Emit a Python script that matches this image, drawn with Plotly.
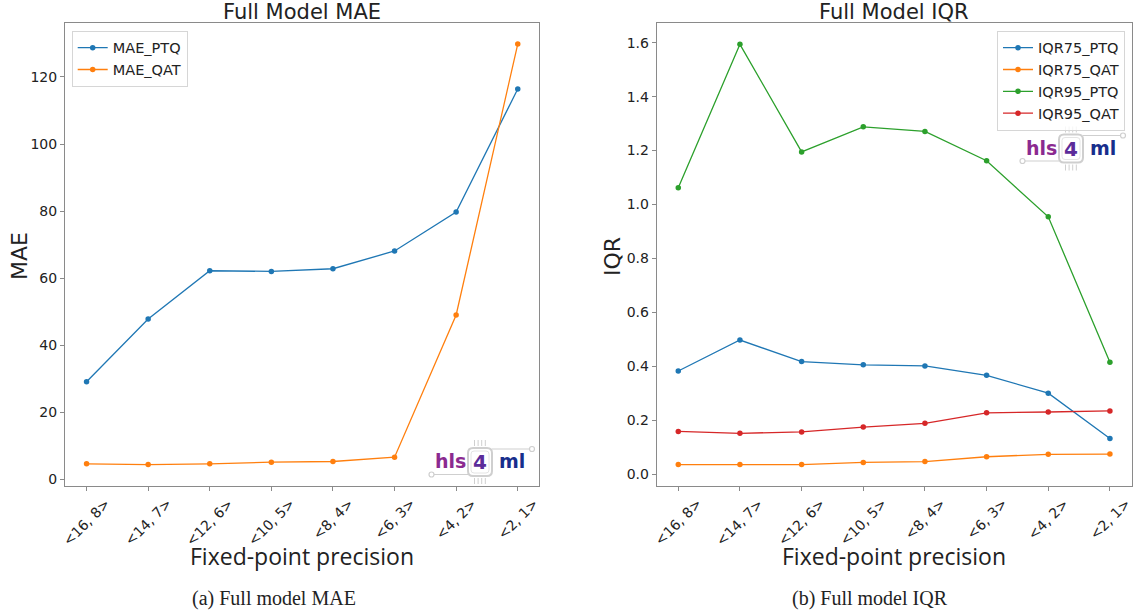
import plotly.graph_objects as go

# ---------------- data ----------------
precision_labels = ["<16, 8>", "<14, 7>", "<12, 6>", "<10, 5>", "<8, 4>", "<6, 3>", "<4, 2>", "<2, 1>"]

mae_ptq = [29.1, 47.8, 62.2, 62.0, 62.8, 68.1, 79.7, 116.4]
mae_qat = [4.6, 4.4, 4.6, 5.1, 5.3, 6.6, 49.0, 129.8]

iqr75_ptq = [0.382, 0.497, 0.417, 0.405, 0.401, 0.366, 0.300, 0.132]
iqr75_qat = [0.035, 0.035, 0.035, 0.043, 0.046, 0.064, 0.073, 0.074]
iqr95_ptq = [1.062, 1.594, 1.195, 1.288, 1.271, 1.162, 0.954, 0.415]
iqr95_qat = [0.158, 0.151, 0.156, 0.174, 0.188, 0.227, 0.230, 0.234]

mae_ticks = [0, 20, 40, 60, 80, 100, 120]
iqr_ticks = [0.0, 0.2, 0.4, 0.6, 0.8, 1.0, 1.2, 1.4, 1.6]

C_BLUE, C_ORANGE, C_GREEN, C_RED = "#1f77b4", "#ff7f0e", "#2ca02c", "#d62728"

# ---------------- geometry helpers ----------------
W, H = 1136, 615
def px(x):
    return x / W
def py(y):
    return 1 - y / H

x_idx = list(range(len(precision_labels)))
tick_text = [s.replace("<", "&lt;").replace(">", "&gt;") for s in precision_labels]

SANS = "DejaVu Sans"
TXT = "#222222"
FRAME = "#8a8a8a"

fig = go.Figure()

def add_series(xa, ya, name, vals, color, legend):
    fig.add_trace(go.Scatter(
        x=x_idx, y=vals, name=name, mode="lines+markers",
        xaxis=xa, yaxis=ya, legend=legend,
        line=dict(color=color, width=1.3),
        marker=dict(color=color, size=5.5),
    ))

add_series("x", "y", "MAE_PTQ", mae_ptq, C_BLUE, "legend")
add_series("x", "y", "MAE_QAT", mae_qat, C_ORANGE, "legend")
add_series("x2", "y2", "IQR75_PTQ", iqr75_ptq, C_BLUE, "legend2")
add_series("x2", "y2", "IQR75_QAT", iqr75_qat, C_ORANGE, "legend2")
add_series("x2", "y2", "IQR95_PTQ", iqr95_ptq, C_GREEN, "legend2")
add_series("x2", "y2", "IQR95_QAT", iqr95_qat, C_RED, "legend2")

ydom = [py(486), py(23.3)]

common_x = dict(
    tickmode="array", tickvals=x_idx, ticktext=[""] * len(x_idx),
    range=[-0.35, len(x_idx) - 1 + 0.35],
    showline=True, mirror=True, linecolor=FRAME, linewidth=1,
    ticks="outside", ticklen=4, tickcolor=FRAME, tickwidth=1,
    showgrid=False, zeroline=False, automargin=False,
)
common_y = dict(
    showline=True, mirror=True, linecolor=FRAME, linewidth=1,
    ticks="outside", ticklen=4, tickcolor=FRAME, tickwidth=1,
    showgrid=False, zeroline=False, automargin=False,
    tickfont=dict(family=SANS, size=14, color=TXT),
    tickmode="array",
)

fig.update_layout(
    width=W, height=H,
    margin=dict(l=0, r=0, t=0, b=0, autoexpand=False),
    paper_bgcolor="white", plot_bgcolor="white",
    showlegend=True,
    xaxis=dict(domain=[px(65), px(539.3)], anchor="y", **common_x),
    yaxis=dict(domain=ydom, anchor="x", range=[-2.0, 136.0],
               tickvals=mae_ticks, ticktext=[str(v) for v in mae_ticks], **common_y),
    xaxis2=dict(domain=[px(656.7), px(1131.5)], anchor="y2", **common_x),
    yaxis2=dict(domain=ydom, anchor="x2", range=[-0.0445, 1.672],
                tickvals=iqr_ticks, ticktext=[f"{v:.1f}" for v in iqr_ticks], **common_y),
    legend=dict(x=px(71.7), y=py(30.7), xanchor="left", yanchor="top",
                bgcolor="rgba(255,255,255,0.8)", bordercolor="#d6d6d6", borderwidth=1,
                font=dict(family=SANS, size=14.5, color=TXT), tracegroupgap=0),
    legend2=dict(x=px(1125), y=py(30.7), xanchor="right", yanchor="top",
                 bgcolor="rgba(255,255,255,0.8)", bordercolor="#d6d6d6", borderwidth=1,
                 font=dict(family=SANS, size=14.5, color=TXT), tracegroupgap=0),
)

ann = []
def text(x, y, s, size, family=SANS, color=TXT, angle=0, xanchor="center", yanchor="middle"):
    ann.append(dict(x=px(x), y=py(y), xref="paper", yref="paper", text=s, showarrow=False,
                    textangle=angle, xanchor=xanchor, yanchor=yanchor,
                    font=dict(family=family, size=size, color=color)))

# rotated x tick labels, centred on their ticks (matplotlib style)
for xr in ("x", "x2"):
    for i, t in zip(x_idx, tick_text):
        ann.append(dict(x=i, xref=xr, y=py(493), yref="paper", text=t, showarrow=False,
                        textangle=-45, xanchor="center", yanchor="top",
                        font=dict(family=SANS, size=14, color=TXT)))

# titles
text(302, 12, "Full Model MAE", 21)
text(894, 12, "Full Model IQR", 21)
# axis titles
text(19, 256, "MAE", 22, angle=-90)
text(612, 256, "IQR", 22, angle=-90)
text(302, 556, "Fixed-point precision", 23, family="Open Sans")
text(894, 556, "Fixed-point precision", 23, family="Open Sans")
# captions
text(274, 598, "(a) Full model MAE", 20, family="Liberation Serif")
text(870, 598, "(b) Full model IQR", 20, family="Liberation Serif")

# ---------------- hls4ml logos ----------------
shapes = []
LOGO_GRAY = "#cfcfcf"

def rounded_rect(x0, y0, x1, y1, r):
    X0, X1 = px(x0), px(x1)
    Y0, Y1 = py(y0), py(y1)
    rx, ry = r / W, r / H
    return (f"M {X0+rx},{Y0} L {X1-rx},{Y0} Q {X1},{Y0} {X1},{Y0-ry} "
            f"L {X1},{Y1+ry} Q {X1},{Y1} {X1-rx},{Y1} L {X0+rx},{Y1} "
            f"Q {X0},{Y1} {X0},{Y1+ry} L {X0},{Y0-ry} Q {X0},{Y0} {X0+rx},{Y0} Z")

def line(x0, y0, x1, y1, w=1.2):
    shapes.append(dict(type="line", xref="paper", yref="paper",
                       x0=px(x0), y0=py(y0), x1=px(x1), y1=py(y1),
                       line=dict(color=LOGO_GRAY, width=w)))

def circle(cx, cy, r=2.5):
    shapes.append(dict(type="circle", xref="paper", yref="paper",
                       x0=px(cx - r), x1=px(cx + r), y0=py(cy + r), y1=py(cy - r),
                       line=dict(color=LOGO_GRAY, width=1.2), fillcolor="white"))

def logo(bx, by):
    bw, bh = 24, 28
    for i in range(4):
        xx = bx + 6.5 + i * 3.6
        line(xx, by - 8, xx, by - 2, 1)
        line(xx, by + bh + 2, xx, by + bh + 8, 1)
    line(bx - 34, by + bh - 1.5, bx, by + bh - 1.5)
    circle(bx - 36.5, by + bh - 1.5)
    line(bx + bw, by + 1, bx + 61.5, by + 1)
    circle(bx + 64, by + 1)
    shapes.append(dict(type="path", xref="paper", yref="paper",
                       path=rounded_rect(bx, by, bx + bw, by + bh, 5),
                       line=dict(color=LOGO_GRAY, width=2), fillcolor="white"))
    shapes.append(dict(type="path", xref="paper", yref="paper",
                       path=rounded_rect(bx + 3, by + 3, bx + bw - 3, by + bh - 3, 3),
                       line=dict(color="#e4e4e4", width=1), fillcolor="rgba(0,0,0,0)"))
    cy = by + bh / 2
    text(bx - 17.5, cy - 1, "<b>hls</b>", 19, color="#8b2a90")
    text(bx + bw / 2, cy, "<b>4</b>", 20, color="#5b2c9a")
    text(bx + 44, cy - 1, "<b>ml</b>", 19, color="#172e8c")

logo(468, 448)
logo(1059, 134.5)

fig.update_layout(annotations=ann, shapes=shapes)

fig.write_html(
    "out.html",
    config={"displayModeBar": False},
    post_script="document.body.style.margin='0';document.body.style.overflow='hidden';",
)
